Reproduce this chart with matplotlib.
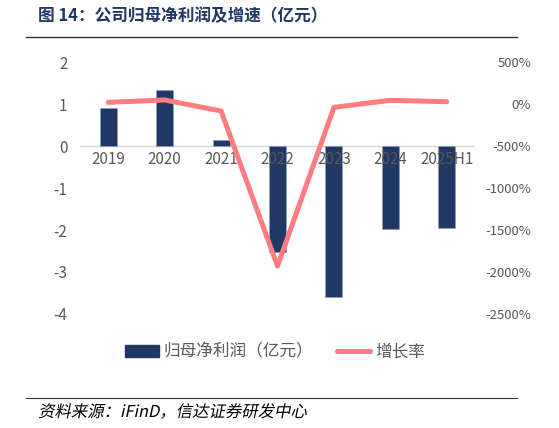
import matplotlib.pyplot as plt
from matplotlib.lines import Line2D
from matplotlib.patches import Patch, PathPatch
from matplotlib.textpath import TextPath
from matplotlib.font_manager import FontProperties
from matplotlib.transforms import Affine2D

plt.rcParams['font.family'] = ['Noto Sans CJK SC', 'DejaVu Sans']

# data
years = ['2019', '2020', '2021', '2022', '2023', '2024', '2025H1']
profit = [0.91, 1.33, 0.135, -2.52, -3.60, -1.98, -1.95]   # 亿元
growth = [20, 48, -83, -1930, -40, 44, 27]                  # %
right_ticks = [500, 0, -500, -1000, -1500, -2000, -2500]

bar_color = '#1F3864'
line_color = '#FF7C80'
grey = '#595959'

fig = plt.figure(figsize=(5.59, 4.28), dpi=100)
ax = fig.add_axes([80 / 559, 1 - 314 / 428, 395 / 559, 252 / 428])
ax2 = ax.twinx()

x = list(range(len(years)))
ax.bar(x, profit, width=0.3, color=bar_color, edgecolor='#8EA0BF', linewidth=0.5, zorder=3)
ax.axhline(0, color='#D9D9D9', lw=1, zorder=2)
ax.set_xlim(-0.5, len(years) - 0.5)
ax.set_ylim(-4, 2)
ax.set_yticks([2, 1, 0, -1, -2, -3, -4])
ax.set_yticklabels(['2', '1', '0', '-1', '-2', '-3', '-4'], fontsize=11, color=grey)
ax.set_xticks([])
for i, lab in enumerate(years):
    ax.text(i, -0.12, lab, ha='center', va='top', fontsize=11, color=grey, zorder=5)

ax2.plot(x, growth, color=line_color, lw=3.6, solid_capstyle='round', zorder=4)
ax2.set_ylim(-2500, 500)
ax2.set_yticks(right_ticks)
ax2.set_yticklabels([f'{v}%' for v in right_ticks], fontsize=9.5, color=grey, ha='right')

for a in (ax, ax2):
    for s in a.spines.values():
        s.set_visible(False)
    a.tick_params(length=0)
ax.tick_params(axis='y', pad=9)
ax2.tick_params(axis='y', pad=40.5)
ax.set_zorder(ax2.get_zorder() - 1)
ax.patch.set_visible(False)

handles = [Patch(color=bar_color), Line2D([], [], color=line_color, lw=3.6, solid_capstyle='round')]
fig.legend(handles, ['归母净利润（亿元）', '增长率'], loc='center', bbox_to_anchor=(275 / 559, 1 - 352 / 428),
           ncol=2, frameon=False, fontsize=12, labelcolor=grey, handlelength=2.0, columnspacing=1.4,
           handletextpad=0.3)

fig.text(38 / 559, 1 - 16 / 428, '图 14：公司归母净利润及增速（亿元）', fontsize=12, fontweight='bold',
         color='#1F3864', va='center')
fig.add_artist(Line2D([26 / 559, 517 / 559], [1 - 37 / 428, 1 - 37 / 428], color='#333333', lw=1))
fig.add_artist(Line2D([26 / 559, 517 / 559], [1 - 398 / 428, 1 - 398 / 428], color='#333333', lw=0.8))

# italic-looking source note: skew a text path
src = TextPath((0, 0), '资料来源：iFinD，信达证券研发中心', size=11.8,
               prop=FontProperties(family='Noto Sans CJK SC'))
pts = 72 / fig.dpi
tr = Affine2D().skew_deg(12, 0).translate(38 * pts, (428 - 417) * pts).scale(1 / 72) + fig.dpi_scale_trans
fig.add_artist(PathPatch(src, transform=tr, color='black', lw=0))

fig.savefig('out.png', dpi=100)
